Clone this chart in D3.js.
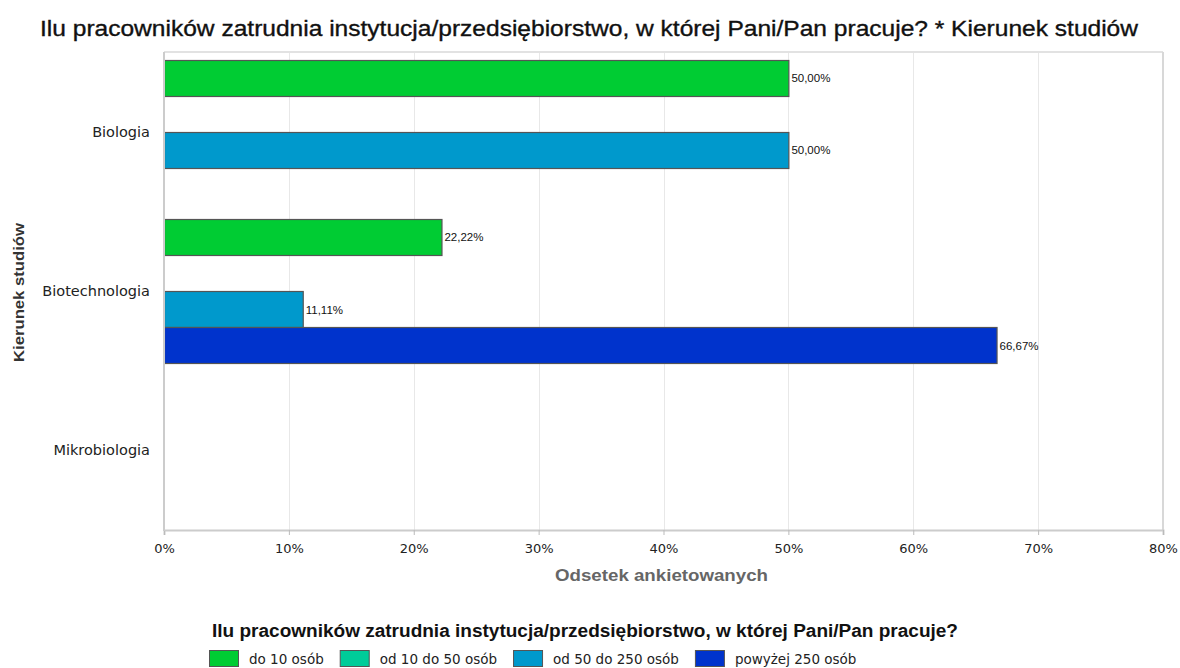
<!doctype html>
<html>
<head>
<meta charset="utf-8">
<title>Kierunek studiów</title>
<script src="https://d3js.org/d3.v7.min.js"></script>
<style>
  body { margin: 0; background: #fff; }
  svg text { font-family: "DejaVu Sans", sans-serif; }
</style>
</head>
<body>
<div id="chart"></div>
<script>
// data
const categories = ['Biologia', 'Biotechnologia', 'Mikrobiologia'];
const seriesNames = ['do 10 osób', 'od 10 do 50 osób', 'od 50 do 250 osób', 'powyżej 250 osób'];
const seriesColors = ['#00cc33', '#00cc99', '#0099cc', '#0033cc'];
const do10 = [50.00, 22.22, 0];
const od10do50 = [0, 0, 0];
const od50do250 = [50.00, 11.11, 0];
const powyzej250 = [0, 66.67, 0];
const xTicks = [0, 10, 20, 30, 40, 50, 60, 70, 80];

const seriesValues = [do10, od10do50, od50do250, powyzej250];

const W = 1180, H = 668;
const margin = { top: 52, right: 17, bottom: 138, left: 164 };
const plotW = W - margin.left - margin.right;
const plotH = H - margin.top - margin.bottom;

const svg = d3.select('#chart').append('svg')
  .attr('width', W)
  .attr('height', H);

const x = d3.scaleLinear().domain([0, 80]).range([0, plotW]);
const y0 = d3.scaleBand().domain(categories).range([0, plotH]);
const y1 = d3.scaleBand().domain(seriesNames).range([0, y0.bandwidth()]).paddingOuter(0.21);

const g = svg.append('g').attr('transform', `translate(${margin.left},${margin.top})`);

// grid lines
g.selectAll('line.grid').data(xTicks).join('line')
  .attr('class', 'grid')
  .attr('x1', d => Math.round(x(d)) + 0.5).attr('x2', d => Math.round(x(d)) + 0.5)
  .attr('y1', 0).attr('y2', plotH)
  .attr('stroke', '#e8e8e8');

// top and right border
g.append('line')
  .attr('x1', 0).attr('x2', plotW)
  .attr('y1', 0).attr('y2', 0)
  .attr('stroke', '#e2e2e2').attr('stroke-width', 2);
g.append('line')
  .attr('x1', plotW).attr('x2', plotW)
  .attr('y1', 0).attr('y2', plotH)
  .attr('stroke', '#d8d8d8').attr('stroke-width', 2);

// bars
const rows = [];
categories.forEach((c, ci) => {
  seriesNames.forEach((s, si) => {
    rows.push({ cat: c, ser: s, si: si, v: seriesValues[si][ci] });
  });
});
const nonZero = rows.filter(d => d.v > 0);

g.selectAll('rect.bar').data(nonZero).join('rect')
  .attr('class', 'bar')
  .attr('x', 0.5)
  .attr('y', d => Math.round(y0(d.cat) + y1(d.ser)) + 0.5)
  .attr('width', d => x(d.v))
  .attr('height', Math.round(y1.bandwidth()))
  .attr('fill', d => seriesColors[d.si])
  .attr('stroke', '#555')
  .attr('stroke-width', 1.2);

g.selectAll('text.val').data(nonZero).join('text')
  .attr('class', 'val')
  .attr('x', d => x(d.v) + 3)
  .attr('y', d => y0(d.cat) + y1(d.ser) + y1.bandwidth() / 2 + 4.5)
  .style('font-family', '"Liberation Sans", Arial, sans-serif')
  .style('font-size', '11.5px')
  .style('fill', '#111')
  .text(d => d.v.toFixed(2).replace('.', ',') + '%');

// x axis
const xAxis = g.append('g')
  .attr('transform', `translate(0,${plotH})`)
  .call(d3.axisBottom(x).tickValues(xTicks).tickSize(5).tickPadding(9).tickFormat(d => d + '%'));
xAxis.select('.domain').attr('stroke', '#cccccc').attr('stroke-width', 2);
xAxis.selectAll('.tick line').attr('stroke', '#bbbbbb');
xAxis.selectAll('.tick text')
  .style('font-family', '"DejaVu Sans", sans-serif')
  .style('font-size', '13px')
  .style('fill', '#222');

// left axis line
g.append('line')
  .attr('x1', 0).attr('x2', 0)
  .attr('y1', 0).attr('y2', plotH + 1)
  .attr('stroke', '#cccccc').attr('stroke-width', 2);

// category labels
g.selectAll('text.cat').data(categories).join('text')
  .attr('class', 'cat')
  .attr('x', -14)
  .attr('y', d => y0(d) + y0.bandwidth() / 2 + 5)
  .attr('text-anchor', 'end')
  .style('font-size', '14.5px')
  .style('fill', '#222')
  .text(d => d);

// titles
svg.append('text')
  .attr('x', 40).attr('y', 36)
  .attr('textLength', 1098).attr('lengthAdjust', 'spacingAndGlyphs')
  .style('font-family', '"Liberation Sans", Arial, sans-serif')
  .style('font-size', '21.5px')
  .style('fill', '#111')
  .style('stroke', '#111').style('stroke-width', 0.35)
  .text('Ilu pracowników zatrudnia instytucja/przedsiębiorstwo, w której Pani/Pan pracuje? * Kierunek studiów');

svg.append('text')
  .attr('x', 555).attr('y', 581)
  .attr('textLength', 213).attr('lengthAdjust', 'spacingAndGlyphs')
  .style('font-family', '"Liberation Sans", Arial, sans-serif')
  .style('font-size', '16px')
  .style('font-weight', 'bold')
  .style('fill', '#666')
  .text('Odsetek ankietowanych');

svg.append('text')
  .attr('transform', 'translate(24,292.5) rotate(-90)')
  .attr('text-anchor', 'middle')
  .attr('textLength', 139).attr('lengthAdjust', 'spacingAndGlyphs')
  .style('font-family', '"Liberation Sans", Arial, sans-serif')
  .style('font-size', '15px')
  .style('font-weight', 'bold')
  .style('fill', '#333')
  .text('Kierunek studiów');

// legend
svg.append('text')
  .attr('x', 212).attr('y', 636.5)
  .attr('textLength', 746).attr('lengthAdjust', 'spacingAndGlyphs')
  .style('font-family', '"Liberation Sans", Arial, sans-serif')
  .style('font-size', '17.5px')
  .style('font-weight', 'bold')
  .style('fill', '#111')
  .text('Ilu pracowników zatrudnia instytucja/przedsiębiorstwo, w której Pani/Pan pracuje?');

const legend = svg.append('g');
let lx = 209;
seriesNames.forEach((s, i) => {
  legend.append('rect')
    .attr('x', lx + 0.5).attr('y', 650.5)
    .attr('width', 29).attr('height', 16)
    .attr('fill', seriesColors[i])
    .attr('stroke', '#555');
  const t = legend.append('text')
    .attr('x', lx + 40).attr('y', 663.5)
    .style('font-size', '13.5px')
    .style('fill', '#222')
    .text(s);
  lx = lx + 40 + t.node().getComputedTextLength() + 16;
});
</script>
</body>
</html>
